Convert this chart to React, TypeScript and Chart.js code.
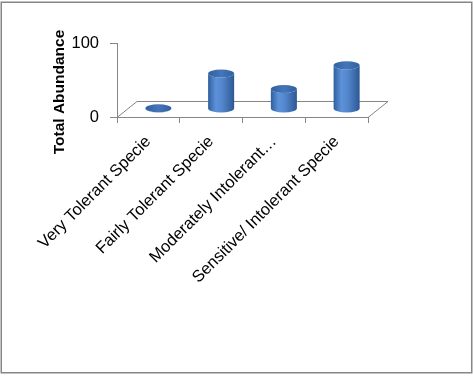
import React, { useEffect, useRef } from 'react';
import { Chart, registerables } from 'chart.js';

Chart.register(...registerables);

const categories = [
  'Very Tolerant Specie',
  'Fairly Tolerant Specie',
  'Moderately Intolerant…',
  'Sensitive/ Intolerant Specie',
];
const abundance = [1, 48, 27, 59];
const yTickValues = [0, 100];
const yTitle = 'Total Abundance';

const DEPTH_X = 20;
const DEPTH_Y = -16;

const framePlugin = {
  id: 'frame',
  beforeDraw(chart: any) {
    const { ctx } = chart;
    ctx.save();
    ctx.fillStyle = '#ffffff';
    ctx.fillRect(0, 0, chart.width, chart.height);
    ctx.strokeStyle = '#868686';
    ctx.lineWidth = 1.5;
    ctx.strokeRect(1.25, 2.25, 470.5, 370.5);
    ctx.restore();
  },
  afterDraw(chart: any) {
    const { ctx, chartArea: a } = chart;
    ctx.save();
    ctx.translate(63.5, a.bottom - 25);
    ctx.rotate(-Math.PI / 2);
    ctx.fillStyle = '#000000';
    ctx.font = "bold 15.5px 'Liberation Sans'";
    ctx.textAlign = 'center';
    ctx.textBaseline = 'alphabetic';
    ctx.fillText(yTitle, 0, 0);
    ctx.restore();
  },
};

const cylinderPlugin = {
  id: 'cylinders',
  beforeDatasetsDraw(chart: any) {
    const { ctx, chartArea: a } = chart;
    ctx.save();
    ctx.strokeStyle = '#868686';
    ctx.lineWidth = 1;
    ctx.beginPath();
    ctx.moveTo(a.left, a.bottom + 0.5);
    ctx.lineTo(a.left + DEPTH_X, a.bottom + DEPTH_Y + 0.5);
    ctx.lineTo(a.right + DEPTH_X, a.bottom + DEPTH_Y + 0.5);
    ctx.lineTo(a.right, a.bottom + 0.5);
    ctx.stroke();
    ctx.restore();
  },
  afterDatasetsDraw(chart: any) {
    const { ctx } = chart;
    const meta = chart.getDatasetMeta(0);
    meta.data.forEach((bar: any) => {
      const { x, y, base, width } = bar.getProps(['x', 'y', 'base', 'width'], true);
      const cx = x + DEPTH_X / 2;
      const top = y + DEPTH_Y / 2;
      const bot = base + DEPTH_Y / 2;
      const rx = width / 2;
      const ry = 4;
      ctx.save();
      const g = ctx.createLinearGradient(cx - rx, 0, cx + rx, 0);
      g.addColorStop(0, '#305f9f');
      g.addColorStop(0.3, '#5d92da');
      g.addColorStop(0.55, '#5286cc');
      g.addColorStop(1, '#2d5894');
      ctx.fillStyle = g;
      ctx.beginPath();
      ctx.moveTo(cx - rx, top);
      ctx.lineTo(cx - rx, bot);
      ctx.ellipse(cx, bot, rx, ry, 0, Math.PI, 0, true);
      ctx.lineTo(cx + rx, top);
      ctx.ellipse(cx, top, rx, ry, 0, 0, Math.PI, false);
      ctx.closePath();
      ctx.fill();
      const tg = ctx.createLinearGradient(cx - rx, 0, cx + rx, 0);
      tg.addColorStop(0, '#30609f');
      tg.addColorStop(0.5, '#4676ba');
      tg.addColorStop(1, '#30609f');
      ctx.fillStyle = tg;
      ctx.beginPath();
      ctx.ellipse(cx, top, rx, ry, 0, 0, Math.PI * 2);
      ctx.fill();
      ctx.restore();
    });
  },
};

export default function App() {
  const ref = useRef<HTMLCanvasElement | null>(null);

  useEffect(() => {
    if (!ref.current) return;
    const chart = new Chart(ref.current, {
      type: 'bar',
      data: {
        labels: categories,
        datasets: [
          {
            data: abundance,
            backgroundColor: 'rgba(0,0,0,0)',
            borderWidth: 0,
            barPercentage: 0.5,
            categoryPercentage: 0.83,
          },
        ],
      },
      options: {
        responsive: false,
        animation: false,
        events: [],
        layout: { padding: { left: 0, top: 43, right: 105, bottom: 0 } },
        plugins: { legend: { display: false }, tooltip: { enabled: false } },
        scales: {
          x: {
            grid: {
              display: true,
              drawOnChartArea: false,
              drawTicks: true,
              tickLength: 6,
              color: '#868686',
              offset: true,
            },
            border: { display: true, color: '#868686' },
            ticks: {
              color: '#000000',
              font: { family: 'Liberation Sans', size: 16.5 },
              maxRotation: 45,
              minRotation: 45,
              autoSkip: false,
              padding: 9,
            },
            afterFit: (s: any) => {
              s.height = 259;
            },
          },
          y: {
            min: 0,
            max: 100,
            afterBuildTicks: (s: any) => {
              s.ticks = yTickValues.map((v) => ({ value: v }));
            },
            grid: {
              display: true,
              drawOnChartArea: false,
              drawTicks: true,
              tickLength: 7,
              color: '#868686',
            },
            border: { display: true, color: '#868686' },
            ticks: {
              color: '#000000',
              font: { family: 'Liberation Sans', size: 16.5 },
              padding: 11,
            },
            title: { display: false },
            afterFit: (s: any) => {
              s.width = 117;
            },
          },
        },
      },
      plugins: [framePlugin, cylinderPlugin],
    });
    return () => chart.destroy();
  }, []);

  return (
    <div style={{ position: 'absolute', left: 0, top: 0, width: 473, height: 376 }}>
      <canvas ref={ref} width={473} height={376} style={{ display: 'block' }} />
    </div>
  );
}
